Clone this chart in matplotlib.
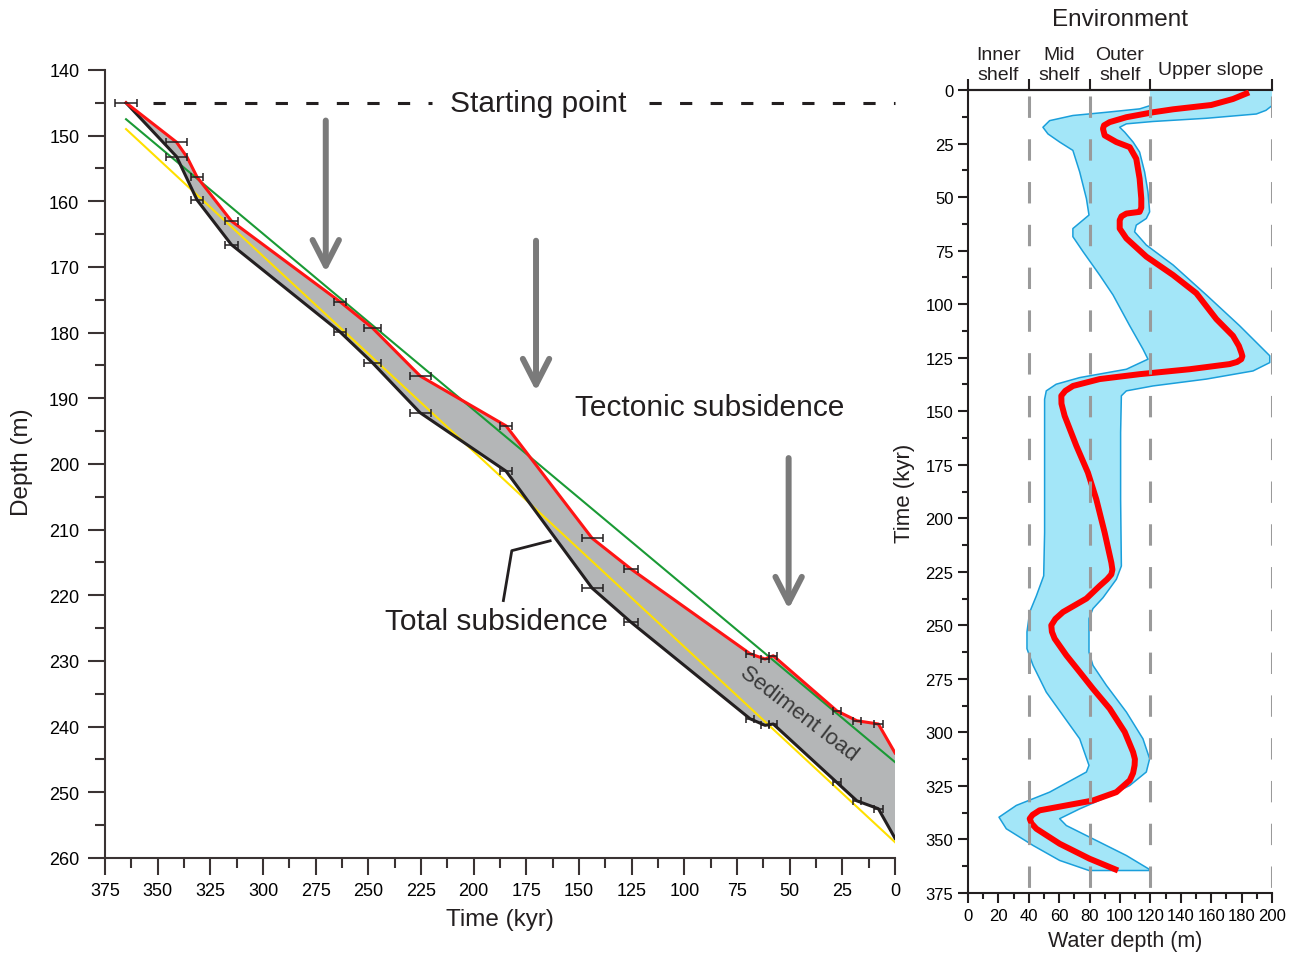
import matplotlib
matplotlib.use('Agg')
import matplotlib.pyplot as plt
from matplotlib.ticker import MultipleLocator

plt.rcParams['font.family'] = ['Liberation Sans', 'DejaVu Sans']

# ---- left panel: subsidence curves (time in kyr, depth in m) ----
red_time = [365, 341, 336, 331.3, 315, 263.4, 248, 225.4, 184.6, 143.8, 125.3,
            68.8, 61.7, 57.8, 27.6, 18.1, 7.9, 0]
red_depth = [145, 151, 153.3, 156.3, 163, 175.3, 179.3, 186.6, 194.2, 211.3, 216,
             228.9, 229.7, 229.2, 237.6, 239.1, 239.6, 244]
black_time = [365, 341, 331.3, 315, 263.4, 248, 225.4, 184.6, 143.8, 125.3,
              68.8, 61.7, 57.8, 27.6, 18.1, 7.9, 0]
black_depth = [145, 153.2, 159.8, 166.6, 179.9, 184.6, 192.2, 201.1, 218.9, 224.1,
               238.8, 239.8, 239.6, 248.5, 251.3, 252.5, 257]

# error bars (time uncertainty)
red_bar_time = [365, 341, 331.3, 315, 263.4, 248, 225.4, 184.6, 143.8, 125.3,
                68.8, 61.7, 57.8, 27.6, 18.1, 7.9]
red_bar_depth = [145, 151, 156.3, 163, 175.3, 179.3, 186.6, 194.2, 211.3, 216,
                 228.9, 229.7, 229.2, 237.6, 239.1, 239.6]
black_bar_time = [341, 331.3, 315, 263.4, 248, 225.4, 184.6, 143.8, 125.3,
                  68.8, 61.7, 57.8, 27.6, 18.1, 7.9]
black_bar_depth = [153.2, 159.8, 166.6, 179.9, 184.6, 192.2, 201.1, 218.9, 224.1,
                   238.8, 239.8, 239.6, 248.5, 251.3, 252.5]
red_bar_err = [5.2, 5, 3, 3, 3, 4.2, 5, 3, 5, 3.4, 2, 2, 2, 2, 2, 2]
black_bar_err = [5, 3, 3, 3, 4.2, 5, 3, 5, 3.4, 2, 2, 2, 2, 2, 2]

# linear trends
green_time = [365, 0]
green_depth = [147.5, 245.4]
yellow_time = [365, 0]
yellow_depth = [149, 257.6]

# arrows (time, top depth, tip depth)
arrow_time = [270.2, 170.4, 50.5]
arrow_top = [147.7, 166.0, 199.1]
arrow_tip = [170.8, 188.9, 222.1]

leader_time = [185.9, 181.9, 163.7]
leader_depth = [220.8, 213.2, 211.7]

# ---- right panel: palaeo water depth ----
wd_time = [1.1, 4.2, 7.0, 9.0, 10.4, 12.7, 15.0, 16.5, 18.1, 21.2, 24.3, 26.7, 32.1,
           41.4, 50.7, 55.0, 56.9, 57.7, 59.0, 60.8, 64.7, 69.3, 77.8, 86.4, 94.9,
           107, 114.8, 119.5, 122.6, 124.3, 125.7, 127.0, 128, 130.4, 132.7, 135,
           138.2, 140.5, 142.8, 146.5, 152.2, 166.2, 178.7, 191.1, 206.7, 220.7,
           224.0, 226.2, 228.5, 231.6, 237.5, 243.8, 247.0, 250, 253.0, 256.2, 264,
           271.8, 279.6, 288.9, 299.8, 309.2, 312.5, 315.4, 319.0, 322.4, 327.9,
           331.8, 334.1, 336.4, 338.5, 340.3, 342.5, 345, 352, 359, 364.5]
wd_depth = [184.9, 174.3, 160, 135, 121.7, 104.2, 93.2, 89.5, 88.8, 89.9, 97.6, 106.4,
            110.7, 112.9, 114, 114, 112.9, 104.2, 101.0, 99.8, 99.8, 104.2, 117.3,
            134.9, 150.2, 163.4, 174.3, 178.2, 179.8, 180.5, 179.8, 177.0, 172.1,
            145.8, 113, 86.6, 69.1, 64.0, 61.4, 61.5, 63.6, 71.3, 78.9, 84.4, 89.9,
            94.3, 95.0, 94.3, 91.5, 86.6, 77.9, 62.5, 57.5, 54.8, 55.2, 57, 64.7, 73.5,
            82.2, 93.2, 103.1, 108.6, 109.8, 109.6, 108.6, 106.4, 97.6, 82.2, 64.7,
            47.1, 42.5, 40.6, 41.8, 45, 60.3, 80, 98.7]

band_left_time = [0, 7.3, 8.8, 10.4, 11.9, 14.3, 17.4, 20.5, 24.3, 28.2, 38.3, 50.7,
                  58.4, 64.7, 68.5, 75.5, 86.4, 95.7, 110.1, 121, 125.7, 130.4, 134.3,
                  137.4, 140.5, 144.4, 175.5, 206.7, 226.9, 236.2, 243.8, 253.1, 260.9,
                  268.7, 281.2, 292.1, 303, 315.4, 318.5, 327.9, 334.1, 339.6, 345,
                  352.8, 359.8, 364.5]
band_left_depth = [119.7, 119.7, 113, 91, 69, 53.7, 49.3, 52.6, 60.3, 69, 73.5, 77.9,
                   79.6, 69, 69, 75.7, 86.6, 95.4, 106.4, 115.1, 118.4, 104.2, 73.5,
                   58, 51.5, 50.4, 50.4, 50.4, 49.8, 45, 40.6, 38.8, 38.8, 42.8, 51.5,
                   62.5, 73.5, 79.6, 77.9, 53.7, 31.8, 20.4, 25.2, 42.8, 60.3, 79.6]
band_right_time = [0, 2.6, 7.3, 9.5, 11.2, 13.2, 14.7, 15.8, 17.4, 19.7, 24.3, 29,
                   38.3, 47.6, 56.9, 60, 63.1, 66.2, 72.4, 81.7, 95.7, 110.1, 124.1,
                   127.3, 131.2, 135, 138.2, 140.5, 142.8, 160, 191.1, 222.3, 228.5,
                   237.1, 242.2, 246.9, 262.5, 268.7, 278, 290.5, 303, 312.3, 318.5,
                   324.8, 331, 335.7, 340.3, 343.5, 349.7, 357.5, 364.5]
band_right_depth = [200, 201.3, 200, 196, 189.7, 156.8, 121.7, 104.2, 99.8, 103.1,
                    108.6, 112.9, 116.2, 118.4, 119.5, 117.3, 110.7, 109.6, 117.3,
                    134.9, 156.8, 178.7, 198.5, 198.5, 187.5, 156.8, 121.7, 104.2,
                    100.9, 100.4, 100.4, 100.9, 97.6, 88.8, 82.2, 79.6, 79.6, 82.2, 91,
                    104.2, 115.1, 119.5, 117.3, 106.4, 88.8, 73.5, 60.3, 64.7, 82.2,
                    104.2, 120.6]

zone_bounds = [40, 80, 120, 200]
zone_names = ['Inner\nshelf', 'Mid\nshelf', 'Outer\nshelf', 'Upper slope']
zone_centres = [20, 60, 100, 160]

ink = '#231f20'

fig = plt.figure(figsize=(12.96, 9.54), dpi=100)

# ================= left panel =================
ax = fig.add_axes([0.0810, 0.0996, 0.6096, 0.826])

ax.fill(red_time + black_time[::-1], red_depth + black_depth[::-1],
        color='#b4b6b7', lw=0, zorder=1)
ax.plot(yellow_time, yellow_depth, color='#ffe000', lw=1.5, zorder=2)
ax.plot(green_time, green_depth, color='#1a9a35', lw=1.5, zorder=3)
ax.plot(black_time, black_depth, color=ink, lw=2.2, zorder=4)
ax.plot(red_time, red_depth, color='#ff1414', lw=2.2, zorder=5)
ax.errorbar(red_bar_time, red_bar_depth, xerr=red_bar_err, fmt='none',
            ecolor=ink, elinewidth=1.1, capsize=3, capthick=1.1, zorder=6)
ax.errorbar(black_bar_time, black_bar_depth, xerr=black_bar_err, fmt='none',
            ecolor=ink, elinewidth=1.1, capsize=3, capthick=1.1, zorder=6)

# starting point dashed line, broken around the label
start_depth = red_depth[0]
ax.plot([352, 220], [start_depth, start_depth], color=ink, lw=2.2,
        dashes=(4, 6), zorder=3)
ax.plot([117, 0], [start_depth, start_depth], color=ink, lw=2.2,
        dashes=(4, 6), zorder=3, clip_on=False)
ax.text(169.4, start_depth, 'Starting point', ha='center', va='center', fontsize=21.5,
        color=ink)

for t, d0, d1 in zip(arrow_time, arrow_top, arrow_tip):
    ax.annotate('', xy=(t, d1), xytext=(t, d0),
                arrowprops=dict(arrowstyle='->,head_length=1.85,head_width=0.95',
                                lw=4.3, color='#7a7a7a', shrinkA=0, shrinkB=0,
                                mutation_scale=10))

ax.text(151.9, 191.3, 'Tectonic subsidence', ha='left', va='center', fontsize=21.5,
        color=ink)
ax.text(242, 223.9, 'Total subsidence', ha='left', va='center', fontsize=21.5,
        color=ink)
ax.plot(leader_time, leader_depth, color=ink, lw=2)
ax.text(45.6, 237.9, 'Sediment load', rotation=-37.5, rotation_mode='anchor',
        ha='center', va='center', fontsize=16, color='#3a3a3a', zorder=7)

ax.set_xlim(375, 0)
ax.set_ylim(260, 140)
ax.xaxis.set_major_locator(MultipleLocator(25))
ax.xaxis.set_minor_locator(MultipleLocator(12.5))
ax.yaxis.set_major_locator(MultipleLocator(10))
ax.yaxis.set_minor_locator(MultipleLocator(5))
for s in ['top', 'right']:
    ax.spines[s].set_visible(False)
for s in ['left', 'bottom']:
    ax.spines[s].set_linewidth(1.5)
    ax.spines[s].set_color('#3a3333')
ax.tick_params(which='major', length=12.5, width=1.5, color='#3a3333',
               labelsize=13, pad=5)
ax.tick_params(which='minor', length=7, width=1.5, color='#3a3333')
ax.tick_params(axis='y', which='major', pad=6)

fig.text(0.017, 0.5157, 'Depth (m)', rotation=90, ha='center', va='center',
         fontsize=17.5, color=ink)
fig.text(0.3858, 0.0356, 'Time (kyr)', ha='center', va='center', fontsize=17.5,
         color=ink)

# ================= right panel =================
ax2 = fig.add_axes([0.7469, 0.0629, 0.2346, 0.8417])

band_x = band_left_depth + band_right_depth[::-1]
band_y = band_left_time + band_right_time[::-1]
ax2.fill(band_x, band_y, color='#a3e6f8', lw=0, zorder=1)
ax2.plot(band_left_depth[1:] + band_right_depth[::-1][:-1],
         band_left_time[1:] + band_right_time[::-1][:-1],
         color='#1a9fdb', lw=1.1, zorder=2)
ax2.plot(wd_depth, wd_time, color='#ff0000', lw=4.3, solid_joinstyle='round',
         solid_capstyle='butt', zorder=3)
ax2.vlines(zone_bounds, 3, 375, colors='#9a9a9a', lw=2.2,
           linestyles=(0, (7, 7)), zorder=4)

ax2.set_xlim(0, 200)
ax2.set_ylim(375, 0)
ax2.xaxis.set_major_locator(MultipleLocator(20))
ax2.xaxis.set_minor_locator(MultipleLocator(10))
ax2.yaxis.set_major_locator(MultipleLocator(25))
ax2.yaxis.set_minor_locator(MultipleLocator(12.5))
ax2.spines['right'].set_visible(False)
for s in ['left', 'bottom', 'top']:
    ax2.spines[s].set_linewidth(1.5)
    ax2.spines[s].set_color(ink)
ax2.tick_params(which='major', length=7.5, width=1.5, color=ink, labelsize=12,
                pad=3)
ax2.tick_params(which='minor', length=4, width=1.5, color=ink)

sec = ax2.secondary_xaxis('top')
sec.set_xticks([0] + zone_bounds)
sec.set_xticklabels([])
sec.tick_params(length=8, width=1.5, color=ink)
sec.spines['top'].set_linewidth(1.5)

for name, c in zip(zone_names, zone_centres):
    if '\n' in name:
        ax2.text(c, -11.8, name, ha='center', va='center', fontsize=14,
                 color=ink, linespacing=1.2)
    else:
        ax2.text(c, -9.5, name, ha='center', va='center', fontsize=14, color=ink)

fig.text(0.8642, 0.979, 'Environment', ha='center', va='center', fontsize=17.5,
         color=ink)
fig.text(0.6983, 0.4832, 'Time (kyr)', rotation=90, ha='center', va='center',
         fontsize=16, color=ink)
fig.text(0.868, 0.0126, 'Water depth (m)', ha='center', va='center', fontsize=15.5,
         color=ink)

fig.savefig('out.png', dpi=100)
